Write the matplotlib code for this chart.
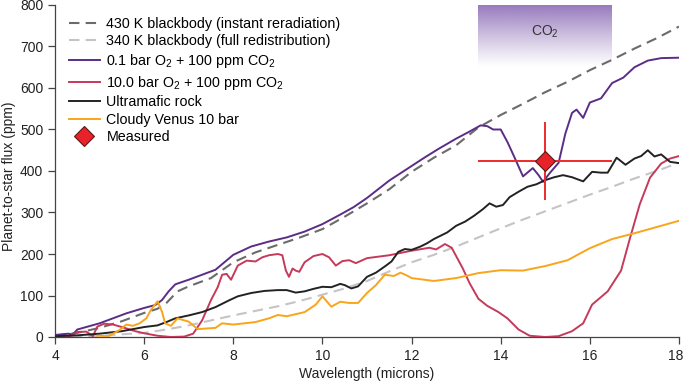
import numpy as np
import matplotlib
matplotlib.use("Agg")
import matplotlib.pyplot as plt
import matplotlib.transforms as mtransforms
from matplotlib.lines import Line2D

plt.rcParams['font.family'] = ['Liberation Sans', 'DejaVu Sans']
plt.rcParams['mathtext.fontset'] = 'custom'
plt.rcParams['mathtext.rm'] = 'Liberation Sans'

# ---- data ----
wl_430 = [4, 4.5, 5, 5.5, 6, 6.3, 6.5, 6.75, 7, 7.5, 8, 8.5, 9, 9.5, 10, 10.5, 11, 11.5, 12,
          12.5, 13, 13.5, 14, 14.5, 15, 15.5, 16, 16.5, 17, 17.5, 18]
f_430 = [3, 10, 22, 38, 58, 68, 82, 110, 122, 142, 180, 204, 222, 240, 260, 290, 322, 356, 398,
         432, 462, 505, 535, 562, 590, 615, 643, 668, 695, 720, 748]

wl_340 = [4, 5, 6, 6.5, 7, 7.5, 8, 8.5, 9, 9.5, 10, 10.5, 11, 11.5, 12, 12.5, 13, 13.5, 14,
          14.5, 15, 15.5, 16, 16.5, 17, 17.5, 18]
f_340 = [1, 3, 10, 18, 28, 40, 52, 63, 74, 87, 102, 117, 135, 158, 180, 198, 218, 240, 262,
         283, 303, 323, 343, 362, 382, 400, 420]

wl_o2_01 = [4, 4.3, 4.4, 4.5, 4.8, 5.0, 5.3, 5.6, 6.0, 6.25, 6.4, 6.55, 6.7, 7.0, 7.2, 7.6, 8.0,
            8.4, 8.8, 9.2, 9.6, 10.0, 10.4, 10.7, 11.0, 11.5, 12.0, 12.3, 12.6, 13.0, 13.3,
            13.55, 13.7, 13.83, 14.0, 14.15, 14.3, 14.5, 14.72, 14.85, 14.95, 15.1, 15.3, 15.45,
            15.6, 15.7, 15.85, 16.0, 16.25, 16.5, 16.75, 17.0, 17.3, 17.6, 18.0]
f_o2_01 = [5, 8, 6, 18, 27, 33, 45, 57, 70, 77, 89, 110, 127, 138, 146, 162, 198,
           218, 230, 240, 254, 272, 295, 313, 335, 377, 412, 433, 453, 478, 495,
           510, 508, 500, 500, 470, 435, 387, 407, 390, 374, 395, 420, 490,
           540, 548, 528, 565, 575, 612, 625, 650, 666, 672, 673]

wl_o2_10 = [4, 4.3, 4.4, 4.5, 4.7, 4.85, 4.95, 5.1, 5.3, 5.5, 5.8, 6.0, 6.3, 6.6, 6.9, 7.1, 7.3,
            7.5, 7.65, 7.75, 7.85, 7.95, 8.1, 8.3, 8.5, 8.65, 8.8, 9.0, 9.1, 9.18, 9.25, 9.33,
            9.4, 9.48, 9.6, 9.8, 10.0, 10.15, 10.3, 10.45, 10.6, 10.75, 11.0, 11.5, 12.0, 12.4,
            12.55, 12.75, 12.9, 13.15, 13.3, 13.5, 13.7, 13.95, 14.15, 14.4, 14.65, 15.0, 15.3,
            15.6, 15.85, 16.05, 16.4, 16.7, 16.9, 17.12, 17.35, 17.6, 17.8, 18.0]
f_o2_10 = [0, 0, 5, 12, 13, 2, 25, 32, 30, 24, 14, 9, 3, 0, 1, 8, 40,
           89, 120, 150, 152, 138, 172, 184, 182, 192, 197, 200, 197, 160, 145, 165,
           160, 157, 180, 195, 200, 192, 172, 183, 185, 178, 190, 197, 208, 215,
           211, 224, 215, 165, 130, 92, 75, 60, 45, 18, 3, 0, 2,
           14, 33, 78, 110, 160, 238, 320, 384, 418, 430, 436]

wl_rock = [4, 4.5, 5, 5.5, 6, 6.3, 6.5, 6.7, 7.0, 7.3, 7.6, 7.9, 8.1, 8.4, 8.7, 9.0, 9.2, 9.4,
           9.6, 9.8, 10.0, 10.2, 10.4, 10.5, 10.65, 10.8, 11.0, 11.2, 11.4, 11.55, 11.7, 11.85,
           12.0, 12.2, 12.35, 12.5, 12.65, 12.8, 13.0, 13.2, 13.4, 13.6, 13.75, 13.9, 14.05,
           14.2, 14.4, 14.6, 14.8, 15.0, 15.2, 15.4, 15.6, 15.85, 16.05, 16.25, 16.4, 16.6,
           16.8, 17.0, 17.15, 17.3, 17.45, 17.6, 17.8, 18.0]
f_rock = [2, 4, 8, 14, 24, 28, 36, 45, 52, 60, 72, 88, 98, 106, 111, 113, 113, 107,
          110, 116, 121, 120, 128, 125, 117, 122, 145, 155, 170, 182, 205, 212,
          210, 218, 226, 236, 244, 252, 268, 278, 292, 308, 322, 314, 318,
          337, 350, 362, 368, 378, 385, 390, 385, 375, 398, 396, 396, 432,
          415, 430, 436, 450, 435, 440, 422, 419]

wl_venus = [4.95, 5.2, 5.45, 5.6, 5.75, 5.9, 6.05, 6.15, 6.3, 6.4, 6.47, 6.6, 6.75, 6.9, 7.0,
            7.2, 7.6, 7.75, 8.0, 8.5, 8.8, 9.0, 9.2, 9.6, 9.85, 10.0, 10.2, 10.4, 10.6, 10.8,
            11.0, 11.2, 11.4, 11.6, 11.75, 11.9, 12.0, 12.5, 13.0, 13.5, 14.0, 14.5, 15.0,
            15.5, 16.0, 16.5, 17.0, 17.5, 18.0]
f_venus = [3, 2, 17, 30, 27, 33, 45, 65, 86, 61, 33, 27, 45, 40, 37,
           19, 22, 33, 30, 36, 45, 53, 50, 60, 78, 98, 73, 85, 82, 82,
           106, 125, 150, 147, 155, 148, 142, 135, 142, 154, 161, 160, 171,
           185, 214, 236, 250, 265, 280]

meas_wl = 15.0
meas_f = 423
meas_xerr = 1.5
meas_ferr = 94

co2_band = (13.5, 16.5)
co2_band_y = (650, 800)

# ---- figure ----
fig = plt.figure(figsize=(6.85, 3.81), dpi=100)
ax = fig.add_axes([55/685, 44/381, 624/685, 332/381])

# CO2 band with gradient
alpha = np.linspace(0, 1, 256) ** 1.1
rgba = np.zeros((256, 1, 4))
rgba[:, 0, 0] = 150/255
rgba[:, 0, 1] = 120/255
rgba[:, 0, 2] = 188/255
rgba[:, 0, 3] = alpha
ax.imshow(rgba, extent=[co2_band[0], co2_band[1], co2_band_y[0], co2_band_y[1]],
          origin='lower', aspect='auto', zorder=0.5, interpolation='bilinear')
ax.text(15.0, 735, r'CO$_2$', ha='center', va='center', fontsize=10, color='#333333')

ax.plot(wl_430, f_430, color='#6b6b6b', lw=1.5, ls=(0, (5, 3)),
        label='430 K blackbody (instant reradiation)', zorder=2)
ax.plot(wl_340, f_340, color='#c4c4c4', lw=1.5, ls=(0, (5, 3)),
        label='340 K blackbody (full redistribution)', zorder=2)
ax.plot(wl_o2_01, f_o2_01, color='#5b2d87', lw=1.4,
        label=r'0.1 bar O$_2$ + 100 ppm CO$_2$', zorder=3)
ax.plot(wl_o2_10, f_o2_10, color='#c53a5b', lw=1.4,
        label=r'10.0 bar O$_2$ + 100 ppm CO$_2$', zorder=3)
ax.plot(wl_rock, f_rock, color='#222222', lw=1.4, label='Ultramafic rock', zorder=3)
ax.plot(wl_venus, f_venus, color='#f9a51b', lw=1.4, label='Cloudy Venus 10 bar', zorder=3)

ax.errorbar([meas_wl], [meas_f], xerr=[meas_xerr], yerr=[meas_ferr], fmt='none',
            ecolor='#ee2a2a', elinewidth=1.4, capsize=0, zorder=4)
ax.plot([meas_wl], [meas_f], marker='D', ms=10, mfc='#e8222a', mec='#5a1a1a', mew=0.8,
        ls='none', zorder=5)

handles, labels = ax.get_legend_handles_labels()
handles.append(Line2D([], [], marker='D', ms=10, mfc='#e8222a', mec='#5a1a1a', mew=0.8, ls='none'))
labels.append('Measured')
ax.legend(handles, labels, loc='upper left', bbox_to_anchor=(0.008, 0.99), frameon=False,
          fontsize=10.3, handlelength=2.2, handletextpad=0.45, labelspacing=0.25,
          borderaxespad=0.3, borderpad=0.3)

ax.set_xlim(4, 18)
ax.set_ylim(0, 800)
ax.set_xticks(range(4, 19, 2))
ax.set_yticks(range(0, 801, 100))
for s in ['top', 'right']:
    ax.spines[s].set_visible(False)
for s in ['left', 'bottom']:
    ax.spines[s].set_color('#444444')
    ax.spines[s].set_linewidth(0.9)
ax.tick_params(direction='out', length=5, width=0.9, color='#444444',
               labelsize=10, labelcolor='#222222')
ax.set_xlabel('Wavelength (microns)', fontsize=10, color='#222222', labelpad=3)
ax.set_ylabel('Planet-to-star flux (ppm)', fontsize=10, color='#222222', labelpad=4)
ax.yaxis.set_label_coords(-0.062, 0.485)

# keep the last x tick label inside the canvas
fig.canvas.draw()
last = ax.get_xticklabels()[-1]
last.set_transform(last.get_transform() +
                   mtransforms.ScaledTranslation(-3/100, 0, fig.dpi_scale_trans))

fig.savefig('out.png', dpi=100)
